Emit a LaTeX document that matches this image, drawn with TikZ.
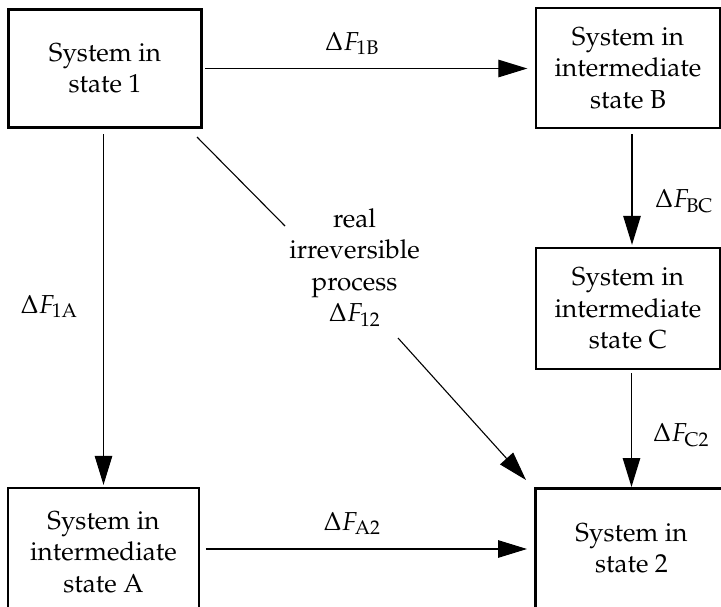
\documentclass[tikz,border=0pt]{standalone}
\usepackage[T1]{fontenc}
\usepackage{mathpazo}
\usetikzlibrary{arrows.meta,calc}
\begin{document}
\begin{tikzpicture}[x=1pt,y=-1pt,
  txt/.style={font=\fontsize{26}{31.5}\selectfont},
  box/.style={txt,draw,line width=1.3pt,align=center,inner sep=0pt},
  thickbox/.style={box,line width=3pt},
  lbl/.style={txt,inner sep=0pt,anchor=base},
  arr/.style={line width=1.2pt,-{Triangle[length=29pt,width=17.5pt]}}]
\useasboundingbox (0,0) rectangle (721,606);
\begin{scope}
\clip (0,0) rectangle (721,606);
% boxes
\node[thickbox,minimum width=193pt,minimum height=118pt] (n1) at (105,68.5) {System in\\state 1};
\node[box,minimum width=184pt,minimum height=120pt] (nB) at (628,68) {System in\\intermediate\\state B};
\node[box,minimum width=184pt,minimum height=121pt] (nC) at (628,308.5) {System in\\intermediate\\state C};
\node[box,minimum width=191pt,minimum height=128pt] (nA) at (103.5,552) {System in\\intermediate\\state A};
\node[thickbox,minimum width=192pt,minimum height=120pt] (n2) at (631.5,548.5) {System in\\state 2};
% connectors
\draw[arr,shorten <=2pt,shorten >=8pt] (n1.east) -- (n1.east -| nB.west);
\draw[arr,shorten <=5pt,shorten >=2.5pt] (n1.south -| nA.north) -- (nA.north);
\draw[arr,shorten <=5.5pt,shorten >=2.5pt] ([xshift=4pt]nB.south) -- ([xshift=4pt]nC.north);
\draw[arr,shorten <=3.5pt] (nC.south -| n2.north) -- (n2.north);
\draw[arr,shorten <=6.3pt,shorten >=7pt] ([yshift=3pt]nA.east) -- ([yshift=3pt]nA.east -| n2.west);
\coordinate (d1) at (197,137);
\coordinate (g1) at (285,226);
\coordinate (g2) at (398,338);
\coordinate (d2) at (526,480);
\draw[line width=1.1pt] (d1) -- (g1);
\draw[arr,line width=1.1pt] (g2) -- (d2);
% labels
\node[lbl] (l1B) at (352,50) {$\Delta F_{\mathrm{1B}}$};
\node[lbl] (l1A) at (49,313) {$\Delta F_{\mathrm{1A}}$};
\node[lbl] (lBC) at (684,207) {$\Delta F_{\mathrm{BC}}$};
\node[lbl] (lC2) at (681,441) {$\Delta F_{\mathrm{C2}}$};
\node[lbl] (lA2) at (352,530) {$\Delta F_{\mathrm{A2}}$};
\node[txt,inner sep=0pt,align=center,anchor=north] (l12) at (354.5,208) {real\\irreversible\\process\\$\Delta F_{12}$};
\end{scope}
\end{tikzpicture}
\end{document}
